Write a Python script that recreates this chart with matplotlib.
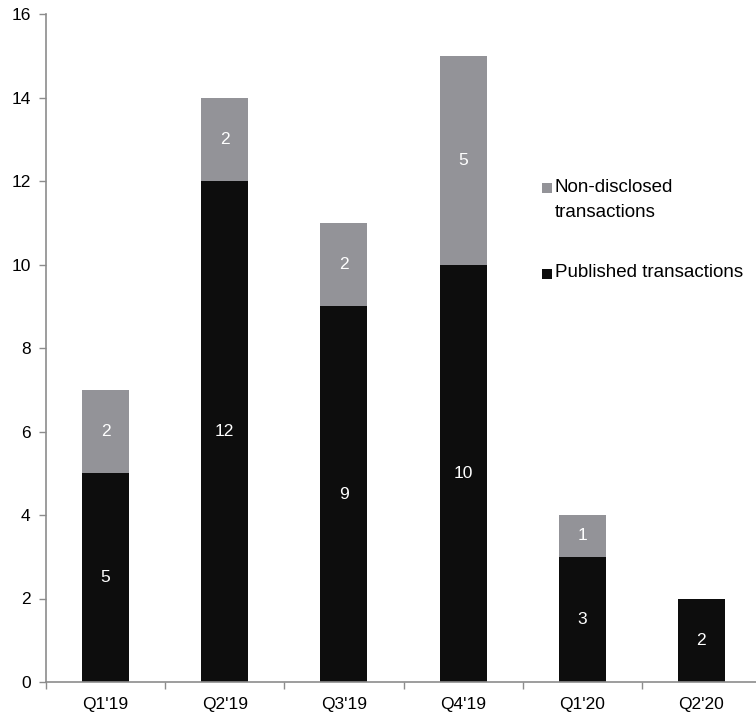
import matplotlib
matplotlib.use("Agg")
import matplotlib.pyplot as plt
from matplotlib.patches import Rectangle
import numpy as np

quarters = ["Q1'19", "Q2'19", "Q3'19", "Q4'19", "Q1'20", "Q2'20"]
published = [5, 12, 9, 10, 3, 2]
non_disclosed = [2, 2, 2, 5, 1, 0]

BLACK = "#0d0d0d"
GREY = "#939398"
SPINE = "#8c8c8c"

plt.rcParams["font.family"] = ["Liberation Sans", "DejaVu Sans"]

fig = plt.figure(figsize=(7.56, 7.15), dpi=100)
# right edge of the axes runs slightly past the figure edge
ax = fig.add_axes([46 / 756, 33 / 715, 715 / 756, 668 / 715])

x = np.arange(len(quarters))
w = 0.395
ax.bar(x, published, width=w, color=BLACK, linewidth=0)
ax.bar(x, non_disclosed, width=w, bottom=published, color=GREY, linewidth=0)

# segment labels
for i in range(len(quarters)):
    ax.text(x[i], published[i] / 2, str(published[i]), ha="center", va="center",
            color="white", fontsize=12.5)
    if non_disclosed[i]:
        ax.text(x[i], published[i] + non_disclosed[i] / 2, str(non_disclosed[i]),
                ha="center", va="center", color="white", fontsize=12.5)

ax.set_xlim(-0.5, len(quarters) - 0.5)
ax.set_ylim(0, 16)
ax.set_yticks(range(0, 17, 2))
ax.set_xticks(x)
ax.set_xticklabels(quarters)
ax.set_xticks(np.arange(-0.5, len(quarters), 1), minor=True)
ax.tick_params(axis="x", which="major", length=0, pad=11, labelsize=12.5)
ax.tick_params(axis="x", which="minor", length=5, color=SPINE, width=1)
ax.tick_params(axis="y", length=5, color=SPINE, width=1, pad=6, labelsize=12.5)

for s in ("top", "right"):
    ax.spines[s].set_visible(False)
for s in ("left", "bottom"):
    ax.spines[s].set_color(SPINE)
    ax.spines[s].set_linewidth(1.2)

# legend drawn by hand on the right side
items = [(GREY, "Non-disclosed\ntransactions", 188, 179), (BLACK, "Published transactions", 274, 264)]
for col, label, ypix, ytxt in items:
    fig.patches.append(Rectangle((542 / 756, 1 - (ypix + 5) / 715), 10 / 756, 10 / 715,
                                 transform=fig.transFigure, color=col, linewidth=0))
    fig.text(555 / 756, 1 - ytxt / 715, label, ha="left", va="top",
             fontsize=13.5, linespacing=1.6)

fig.savefig("out.png", dpi=100, facecolor="white")
